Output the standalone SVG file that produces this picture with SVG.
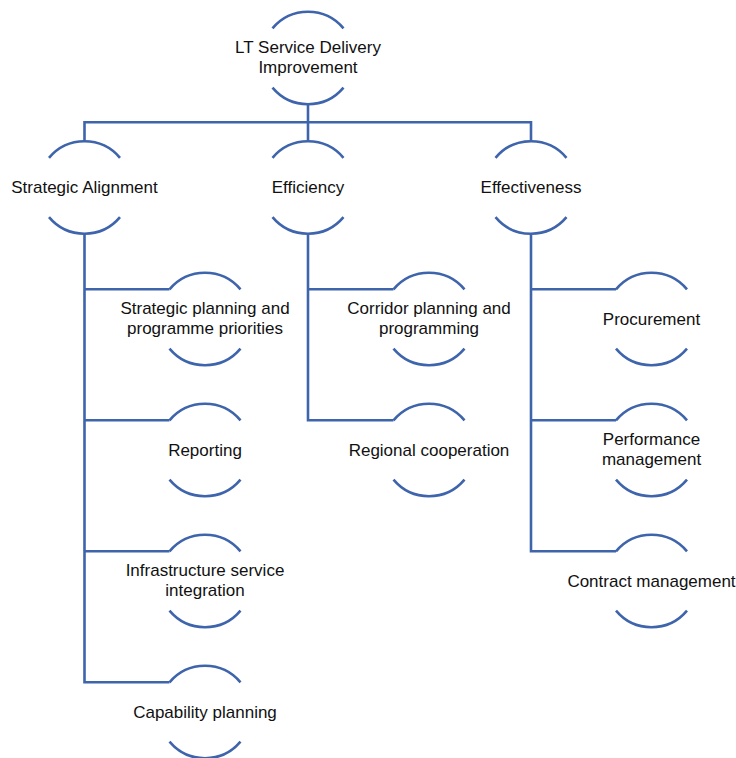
<svg xmlns="http://www.w3.org/2000/svg" xmlns:xlink="http://www.w3.org/1999/xlink" width="736" height="758" viewBox="0 0 736 758">
<style>
.arc{fill:none;stroke:#3E64AC;stroke-width:2.6}
.con{fill:none;stroke:#3E64AC;stroke-width:2.6;stroke-linejoin:miter}
text{font-family:"Liberation Sans",Arial,sans-serif;font-size:17px;fill:#111;text-anchor:middle}
</style>
<defs>
<path id="ring" class="arc" d="M-35.5,-29.7 A46.3,46.3 0 0 1 35.5,-29.7 M-35.5,29.7 A46.3,46.3 0 0 0 35.5,29.7"/>
</defs>
<rect width="736" height="758" fill="#fff"/>
<g id="connectors">
<path class="con" d="M308,104.3 V122.3 M84.5,141.2 V122.3 H531 V141.2 M308,122.3 V141.2"/>
<path class="con" d="M84.5,233.8 V682.3 H169.5 M84.5,289.3 H169.5 M84.5,420.3 H169.5 M84.5,551.3 H169.5"/>
<path class="con" d="M308,233.8 V420.3 H393.5 M308,289.3 H393.5"/>
<path class="con" d="M531,233.8 V551.3 H616 M531,289.3 H616 M531,420.3 H616"/>
</g>
<g id="n0"><use xlink:href="#ring" x="308" y="58"/><text x="308" y="53">LT Service Delivery</text><text x="308" y="72.5">Improvement</text></g>
<g id="n1"><use xlink:href="#ring" x="84.5" y="187.5"/><text x="84.5" y="193">Strategic Alignment</text></g>
<g id="n2"><use xlink:href="#ring" x="308" y="187.5"/><text x="308" y="193">Efficiency</text></g>
<g id="n3"><use xlink:href="#ring" x="531" y="187.5"/><text x="531" y="193">Effectiveness</text></g>
<g id="n4"><use xlink:href="#ring" x="205" y="319"/><text x="205" y="314">Strategic planning and</text><text x="205" y="333.5">programme priorities</text></g>
<g id="n5"><use xlink:href="#ring" x="205" y="450"/><text x="205" y="455.5">Reporting</text></g>
<g id="n6"><use xlink:href="#ring" x="205" y="581"/><text x="205" y="576">Infrastructure service</text><text x="205" y="595.5">integration</text></g>
<g id="n7"><use xlink:href="#ring" x="205" y="712"/><text x="205" y="717.5">Capability planning</text></g>
<g id="n8"><use xlink:href="#ring" x="429" y="319"/><text x="429" y="314">Corridor planning and</text><text x="429" y="333.5">programming</text></g>
<g id="n9"><use xlink:href="#ring" x="429" y="450"/><text x="429" y="455.5">Regional cooperation</text></g>
<g id="n10"><use xlink:href="#ring" x="651.5" y="319"/><text x="651.5" y="324.5">Procurement</text></g>
<g id="n11"><use xlink:href="#ring" x="651.5" y="450"/><text x="651.5" y="445">Performance</text><text x="651.5" y="464.5">management</text></g>
<g id="n12"><use xlink:href="#ring" x="651.5" y="581"/><text x="651.5" y="586.5">Contract management</text></g>
</svg>
